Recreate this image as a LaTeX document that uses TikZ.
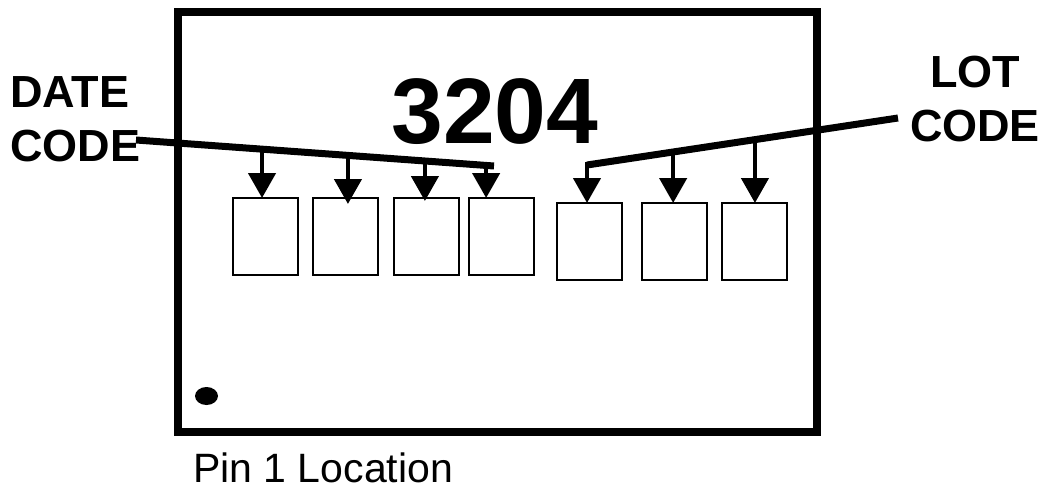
\documentclass[tikz,border=0pt]{standalone}
\usepackage{fontspec}
\setmainfont{Liberation Sans}
\usetikzlibrary{arrows.meta,calc,shapes.geometric}
\tikzset{
  chipbox/.style={draw=black, line width=2pt, minimum width=65pt, minimum height=77pt, inner sep=0pt},
  leader/.style={line width=7pt},
  codearrow/.style={line width=4.5pt, -{Triangle[length=25pt,width=27pt]}, shorten >=-1pt},
  biglabel/.style={font=\fontsize{45}{54}\selectfont\bfseries, inner sep=0pt},
}
\begin{document}
\begin{tikzpicture}[x=1pt,y=-1pt]
\useasboundingbox (0,0) rectangle (1049,493);
\fill[white] (0,0) rectangle (1049,493);
% package outline
\draw[line width=8pt] (178,12) rectangle (817,432);
% marking
\node[anchor=base, font=\fontsize{93}{100}\selectfont\bfseries, inner sep=0pt] (mark) at (495,143) {3204};
% boxes
\node[chipbox] (b1) at (265.5,236.5) {};
\node[chipbox] (b2) at (345.5,236.5) {};
\node[chipbox] (b3) at (426,236.5) {};
\node[chipbox] (b4) at (501.5,236.5) {};
\node[chipbox] (b5) at (589,241.5) {};
\node[chipbox] (b6) at (674,241.5) {};
\node[chipbox] (b7) at (754.5,241.5) {};
% labels
\node[biglabel, anchor=base west, align=left] (date) at (10,161) {DATE\\CODE};
\node[biglabel, anchor=base, align=center] (lot) at (975,141) {LOT\\CODE};
% date code leader
\coordinate (ds) at (136,140);
\coordinate (de) at (494,166);
\draw[leader] (ds) -- (de);
\path (ds) -- (de) coordinate[pos=0.352] (a1) coordinate[pos=0.592] (a2) coordinate[pos=0.807] (a3) coordinate[pos=0.978] (a4);
\draw[codearrow] (a1) -- (a1 |- b1.north);
\draw[codearrow] ($(a2)+(0,-3)$) -- ($(a2 |- b2.north)+(0,6)$);
\draw[codearrow] (a3) -- ($(a3 |- b3.north)+(0,3)$);
\draw[codearrow] (a4) -- (a4 |- b4.north);
% lot code leader
\coordinate (ls) at (898,118);
\coordinate (le) at (587,165);
\draw[leader] (ls) -- (le);
\path (ls) -- (le) coordinate[pos=0.723] (l6) coordinate[pos=0.46] (l7);
\draw[codearrow] ($(le)+(0,-3)$) -- (le |- b5.north);
\draw[codearrow] (l6) -- (l6 |- b6.north);
\draw[codearrow] (l7) -- (l7 |- b7.north);
% pin 1
\node[ellipse, fill=black, minimum width=23pt, minimum height=18pt, inner sep=0pt] (pin) at (206.5,396) {};
\node[anchor=base west, font=\fontsize{41}{48}\selectfont, inner sep=0pt] (pinlabel) at (193,482) {Pin 1 Location};
\end{tikzpicture}
\end{document}
